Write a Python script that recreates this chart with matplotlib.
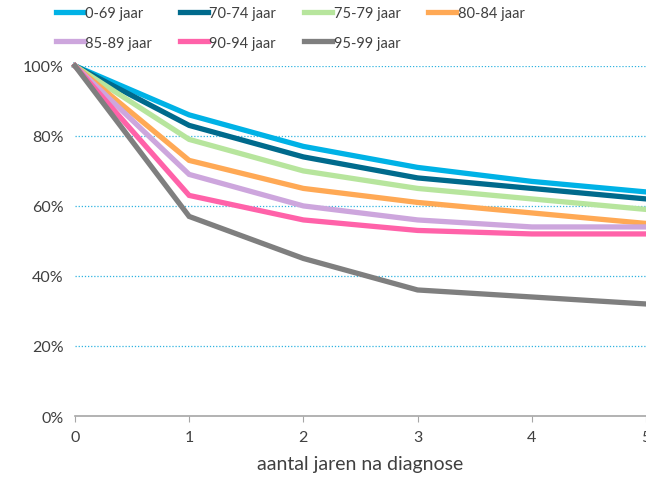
import matplotlib.pyplot as plt
from matplotlib.ticker import FuncFormatter

plt.rcParams['font.family'] = ['Lato', 'DejaVu Sans']

years = [0, 1, 2, 3, 4, 5]
labels = ['0-69 jaar', '70-74 jaar', '75-79 jaar', '80-84 jaar',
          '85-89 jaar', '90-94 jaar', '95-99 jaar']

surv_0_69 = [100, 86, 77, 71, 67, 64]
surv_70_74 = [100, 83, 74, 68, 65, 62]
surv_75_79 = [100, 79, 70, 65, 62, 59]
surv_80_84 = [100, 73, 65, 61, 58, 55]
surv_85_89 = [100, 69, 60, 56, 54, 54]
surv_90_94 = [100, 63, 56, 53, 52, 52]
surv_95_99 = [100, 57, 45, 36, 34, 32]

series = [surv_0_69, surv_70_74, surv_75_79, surv_80_84,
          surv_85_89, surv_90_94, surv_95_99]
colors = ['#00B2E6', '#006A8C', '#B7E59D', '#FFA955',
          '#CDA6DD', '#FF62A9', '#7F7F7F']

fig = plt.figure(figsize=(6.46, 4.81), dpi=100)
ax = fig.add_axes([0.116, 0.133, 0.884, 0.728])

handles = []
for vals, lab, col in zip(series, labels, colors):
    h, = ax.plot(years, vals, color=col, lw=3.8, label=lab, clip_on=False,
                 solid_joinstyle='miter')
    handles.append(h)

ax.set_xlim(0, 5)
ax.set_ylim(0, 100)
ax.set_yticks(range(0, 101, 20))
ax.yaxis.set_major_formatter(FuncFormatter(lambda v, p: f'{int(v)}%'))
ax.set_xticks(years)

# dotted horizontal grid
for y in range(20, 101, 20):
    ax.axhline(y, color='#2EB3E0', lw=0.9, ls=(0, (1, 1.5)), zorder=0)

for s in ['top', 'right', 'left']:
    ax.spines[s].set_visible(False)
ax.spines['bottom'].set_color('#A6A6A6')
ax.spines['bottom'].set_linewidth(1.2)
ax.tick_params(axis='y', length=0, labelsize=11.5, colors='#404040', pad=8)
ax.tick_params(axis='x', length=4, color='#A6A6A6', labelsize=11.5,
               colors='#404040', pad=6)
ax.set_xlabel('aantal jaren na diagnose', fontsize=14, color='#404040', labelpad=8)

# legend: 4 equally spaced columns, filled row by row
col_x = [0.086, 0.278, 0.470, 0.662]
for c, x in enumerate(col_x):
    idx = [i for i in (c, c + 4) if i < len(labels)]
    fig.legend([handles[i] for i in idx], [labels[i] for i in idx],
               loc='upper left', bbox_to_anchor=(x, 0.985), frameon=False,
               fontsize=10.5, handlelength=1.95, handletextpad=0.1,
               labelspacing=1.05, borderpad=0, borderaxespad=0,
               labelcolor='#404040')

fig.savefig('out.png', dpi=100)
